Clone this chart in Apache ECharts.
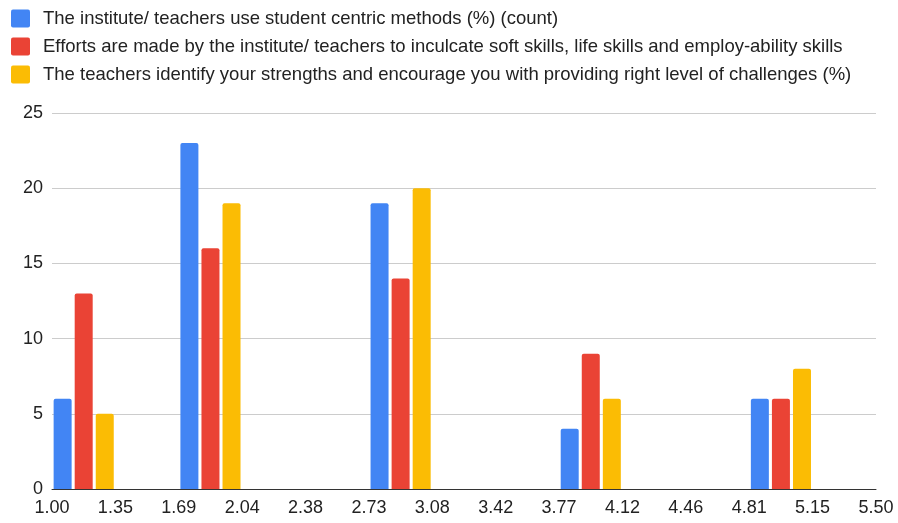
<!DOCTYPE html>
<html><head><meta charset="utf-8">
<script src="https://cdn.jsdelivr.net/npm/echarts@6/dist/echarts.min.js"></script>
<style>html,body{margin:0;padding:0;background:#fff}#c{width:898px;height:523px}</style>
</head><body><div id="c"></div>
<script>
const seriesNames = [
  'The institute/ teachers use student centric methods (%) (count)',
  'Efforts are made by the institute/ teachers to inculcate soft skills, life skills and employ-ability skills',
  'The teachers identify your strengths and encourage you with providing right level of challenges (%)'
];
const xTickLabels = ['1.00','1.35','1.69','2.04','2.38','2.73','3.08','3.42','3.77','4.12','4.46','4.81','5.15','5.50'];
// group centre positions, in x-axis tick steps (between ticks)
const groupPositions = [0.5, 2.5, 5.5, 8.5, 11.5];
const studentCentric = [6, 23, 19, 4, 6];
const softSkills = [13, 16, 14, 9, 6];
const strengths = [5, 19, 20, 6, 8];
const yTicks = [0, 5, 10, 15, 20, 25];
const colors = ['#4285F4', '#EA4335', '#FBBC04'];

const values = [studentCentric, softSkills, strengths];
const chart = echarts.init(document.getElementById('c'));
chart.setOption({
  animation: false,
  color: colors,
  legend: {
    orient: 'vertical', left: 11, top: 9, padding: 0,
    itemWidth: 19, itemHeight: 18, itemGap: 9,
    icon: 'path://M2,0 L17,0 Q19,0 19,2 L19,16 Q19,18 17,18 L2,18 Q0,18 0,16 L0,2 Q0,0 2,0 Z',
    textStyle: { fontFamily: 'Liberation Sans, Arial', fontSize: 18.5, lineHeight: 18, color: '#222', padding: [0, 0, 0, 8] },
    data: seriesNames
  },
  grid: { left: 52, right: 22, top: 113, bottom: 34 },
  xAxis: {
    type: 'value', min: 0, max: xTickLabels.length - 1, interval: 1,
    axisLine: { show: true, lineStyle: { color: '#333', width: 1 } },
    axisTick: { show: false },
    splitLine: { show: false },
    axisLabel: {
      margin: 10, color: '#222', fontFamily: 'Liberation Sans, Arial', fontSize: 18,
      formatter: v => xTickLabels[Math.round(v)]
    }
  },
  yAxis: {
    type: 'value', min: yTicks[0], max: yTicks[yTicks.length - 1], interval: 5,
    axisLine: { show: false }, axisTick: { show: false },
    splitLine: { lineStyle: { color: '#ccc', width: 1 } },
    axisLabel: { margin: 9, color: '#222', fontFamily: 'Liberation Sans, Arial', fontSize: 18 }
  },
  series: seriesNames.map((n, i) => ({
    name: n, type: 'bar', barWidth: 18, barGap: '17%',
    itemStyle: { borderRadius: [2, 2, 0, 0] },
    data: groupPositions.map((x, j) => [x, values[i][j]])
  }))
});
</script></body></html>
